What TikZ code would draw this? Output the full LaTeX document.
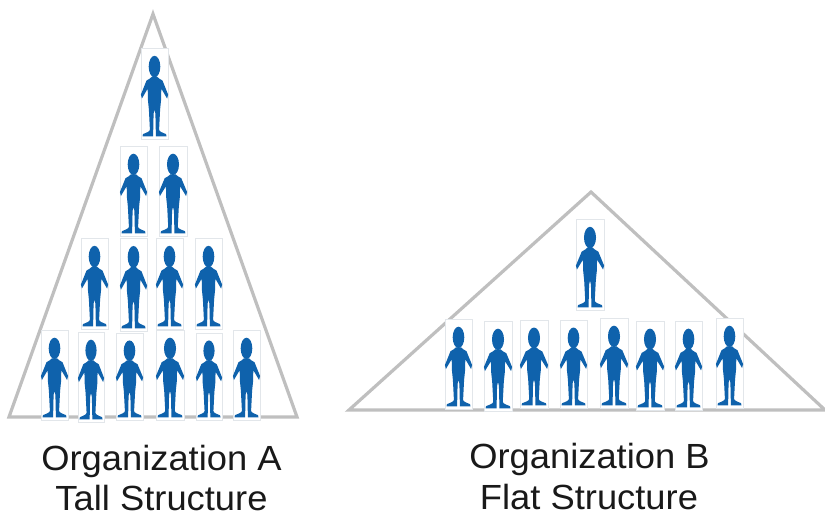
\documentclass[tikz,border=0pt]{standalone}
\usepackage{fontspec}
\setmainfont[FakeStretch=1.04]{Liberation Sans}
\definecolor{tri}{HTML}{BFBFBF}
\definecolor{fig}{HTML}{0F62AC}
\definecolor{framec}{HTML}{E2E6EA}
\tikzset{
  triangleshape/.style={draw=tri,line width=2.4pt,line join=miter},
  personbox/.style={draw=framec,line width=0.6pt,fill=white,inner sep=0pt,rectangle},
  figshape/.style={fill=fig,draw=none},
  caption/.style={font=\fontsize{26.2}{30}\selectfont,text=black!90,inner sep=0pt,anchor=base},
}
\newcommand\persona[5]{% name, x1, y1, x2, y2
  \node[personbox,minimum width={(#4-#2)*0.75pt},minimum height={(#5-#3)*0.75pt}] (#1) at ({(#2+#4)/2},{(#3+#5)/2}) {};
  \begin{scope}[shift={(#1.north)},xscale={(#4-#2)/27},yscale={(#5-#3)/91}]
    \fill[figshape] (0,19) ellipse [x radius=5.8,y radius=10.8];
    \fill[figshape] (-2.5,29) .. controls (-3,31) and (-6,31) .. (-8,33)
      -- (-13.6,47) -- (-12.6,51) -- (-6.8,41)
      -- (-6.6,52) -- (-5.6,62) -- (-4.6,82) .. controls (-4.6,84) and (-8,85) .. (-11.5,86.5)
      -- (-12,88.8) -- (-1.4,88.8) -- (-0.9,66) -- (0,62) -- (0.9,66) -- (1.4,88.8) -- (12,88.8) -- (11.5,86.5)
      .. controls (8,85) and (4.6,84) .. (4.6,82)
      -- (5.6,62) -- (6.6,52) -- (6.8,41) -- (12.6,51) -- (13.6,47) -- (8,33)
      .. controls (6,31) and (3,31) .. (2.5,29) -- cycle;
  \end{scope}
}
\begin{document}
\begin{tikzpicture}[x=0.75pt,y=-0.75pt]
\useasboundingbox (0,0) rectangle (825,516);
\draw[triangleshape] (153,14) -- (297,417) -- (9,417) -- cycle;
\draw[triangleshape] (591,192) -- (825,410) -- (349,410) -- cycle;
\persona{a1}{141}{48}{168}{139}
\persona{a2}{120}{146}{147}{236}
\persona{a3}{159}{146}{187}{236}
\persona{a4}{81}{238}{108}{329}
\persona{a5}{120}{238}{147}{331}
\persona{a6}{156}{238}{183}{329}
\persona{a7}{195}{238}{222}{329}
\persona{a8}{41}{330}{68}{420}
\persona{a9}{78}{332}{104}{422}
\persona{a10}{116}{333}{143}{420}
\persona{a11}{156}{330}{184}{420}
\persona{a12}{196}{333}{222}{420}
\persona{a13}{233}{330}{260}{420}
\persona{b1}{576}{219}{604}{310}
\persona{b2}{445}{319}{472}{409}
\persona{b3}{484}{321}{512}{411}
\persona{b4}{520}{320}{548}{408}
\persona{b5}{560}{320}{587}{408}
\persona{b6}{600}{318}{628}{408}
\persona{b7}{636}{321}{664}{410}
\persona{b8}{675}{321}{702}{410}
\persona{b9}{716}{318}{743}{408}
\node[caption] (ta1) at (161.5,471) {Organization A};
\node[caption] (ta2) at (161.5,510.5) {Tall Structure};
\node[caption] (tb1) at (589.5,469) {Organization B};
\node[caption] (tb2) at (589,510) {Flat Structure};
\end{tikzpicture}
\end{document}
